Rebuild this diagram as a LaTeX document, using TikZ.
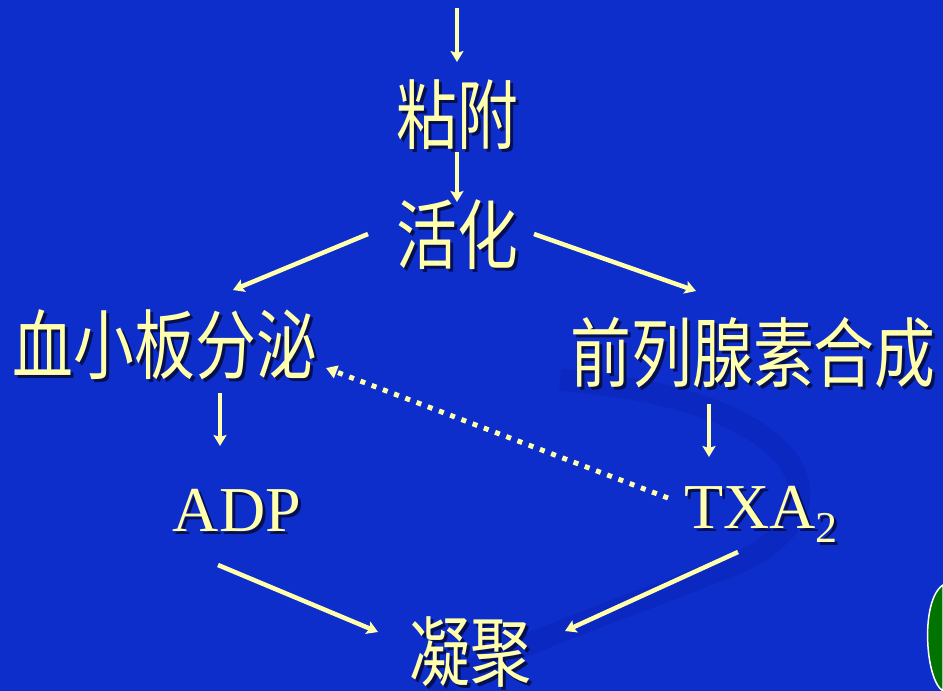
\documentclass[tikz,border=0pt]{standalone}
\usepackage{fontspec}
\usepackage{graphicx}
\setmainfont{Liberation Serif}
\newfontfamily\cjk{Noto Sans CJK SC}
\usetikzlibrary{arrows.meta,calc}
\definecolor{bgblue}{RGB}{14,46,204}
\definecolor{swirlblue}{RGB}{6,30,170}
\definecolor{txt}{RGB}{255,255,172}
\definecolor{shad}{RGB}{6,16,80}
\newcommand\zh[1]{\scalebox{0.8}[1]{\cjk\fontsize{76}{76}\selectfont #1}}
\newcommand\la[1]{\fontsize{64}{64}\selectfont #1}
\tikzset{
  lbl/.style={text=txt, inner sep=0pt},
  lblshadow/.style={text=shad, inner sep=0pt},
  arr/.style={draw=txt, line width=4.5pt, -{Stealth[length=11pt,width=13pt,inset=2pt]}},
  dotarr/.style={draw=txt, line width=5pt, dash pattern=on 5pt off 7pt, -{Triangle[length=11pt,width=13pt]}},
}
\newcommand\lbl[3]{\node[lblshadow] (#1s) at ($(#2)+(3,3)$) {#3};\node[lbl] (#1) at (#2) {#3};}
\begin{document}
\begin{tikzpicture}[x=1pt,y=-1pt]
\fill[bgblue] (0,0) rectangle (943,691);
\useasboundingbox (0,0) rectangle (943,691);
% decorative swirl
\draw[swirlblue, line width=22pt, opacity=0.3] (560,380) .. controls (820,400) and (860,520) .. (720,570) .. controls (620,610) and (500,650) .. (430,691);
\fill[green!45!black, draw=white, line width=1.5pt] (943,585) .. controls (920,600) and (925,680) .. (943,691) -- cycle;
% labels
\lbl{nianfu}{457,115}{\zh{粘附}}
\lbl{huohua}{457,235}{\zh{活化}}
\lbl{fenmi}{165,345}{\zh{血小板分泌}}
\lbl{hecheng}{753,353}{\zh{前列腺素合成}}
\lbl{adp}{237,510}{\la{ADP}}
\lbl{txa}{761,514}{\la{TXA\raisebox{-0.22em}{\fontsize{44}{44}\selectfont 2}}}
\lbl{ningju}{470,652}{\zh{凝聚}}
% connector endpoints
\coordinate (top) at (457,8);
\coordinate (a1) at (457,62);
\coordinate (b0) at (457,152);
\coordinate (b1) at (457,202);
\coordinate (c0) at (368,234);
\coordinate (c1) at (233,290);
\coordinate (d0) at (534,234);
\coordinate (d1) at (696,291);
\coordinate (e0) at (220,393);
\coordinate (e1) at (220,446);
\coordinate (f0) at (709,404);
\coordinate (f1) at (709,457);
\coordinate (g0) at (668,498);
\coordinate (g1) at (326,368);
\coordinate (h0) at (218,565);
\coordinate (h1) at (378,632);
\coordinate (i0) at (738,552);
\coordinate (i1) at (565,631);
% arrows
\draw[arr] (top) -- (a1);
\draw[arr] (b0) -- (b1);
\draw[arr] (c0) -- (c1);
\draw[arr] (d0) -- (d1);
\draw[arr] (e0) -- (e1);
\draw[arr] (f0) -- (f1);
\draw[dotarr] (g0) -- (g1);
\draw[arr] (h0) -- (h1);
\draw[arr] (i0) -- (i1);
\end{tikzpicture}
\end{document}
